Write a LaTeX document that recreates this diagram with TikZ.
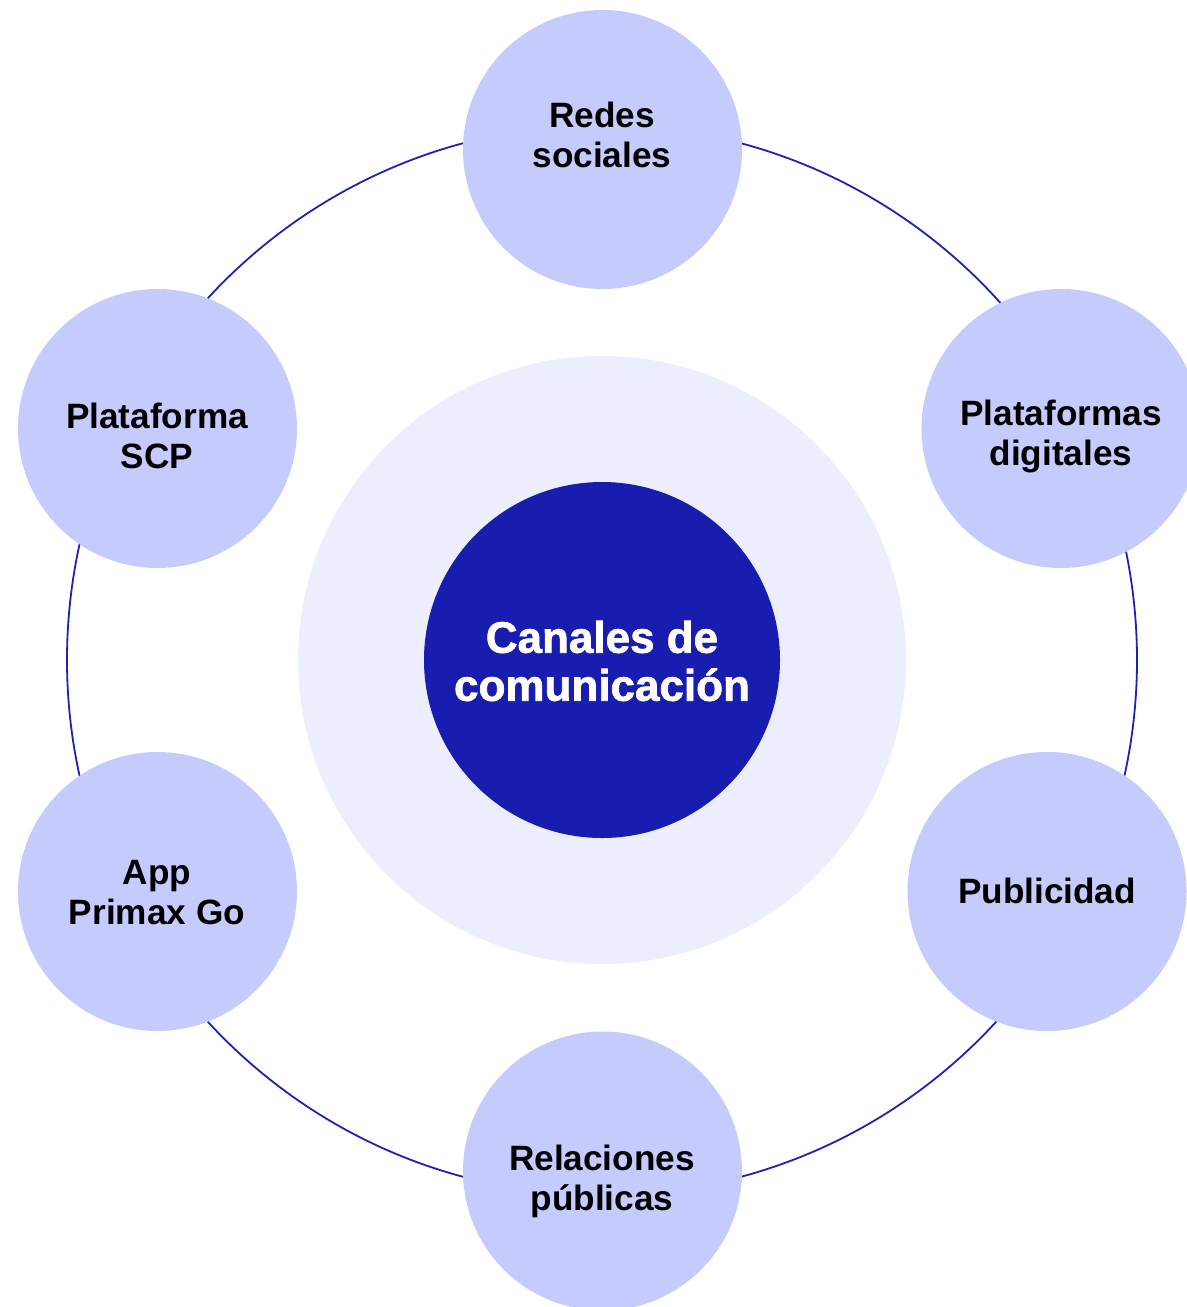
\documentclass[tikz,border=0pt]{standalone}
\usepackage{fontspec}
\setmainfont{Liberation Sans}
\newfontfamily\satfont{Liberation Sans Bold}
\newfontfamily\hubfont[FakeBold=1.6]{Liberation Sans Bold}
\definecolor{satfill}{RGB}{197,203,253}
\definecolor{halofill}{RGB}{237,238,253}
\definecolor{hubfill}{RGB}{24,29,175}
\definecolor{ringline}{RGB}{30,34,178}
\tikzset{
  sat/.style={circle, fill=satfill, minimum size=139.5pt, inner sep=0pt},
  sattext/.style={align=center, text=black, inner sep=0pt, font={\satfont\fontsize{17.6}{20}\selectfont}},
  halo/.style={circle, fill=halofill, minimum size=304pt, inner sep=0pt},
  hub/.style={circle, fill=hubfill, minimum size=178pt, inner sep=0pt},
  hubtext/.style={align=center, text=white, inner sep=0pt, font={\hubfont\fontsize{22}{24}\selectfont}},
  ring/.style={draw=ringline, line width=0.9pt}
}
\begin{document}
\begin{tikzpicture}[x=0.5pt, y=-0.5pt]
  \useasboundingbox (0,0) rectangle (1187,1307);
  \coordinate (mid) at (602,660);
  \draw[ring] (mid) circle (267.5pt);
  \node[halo] (halo) at (mid) {};
  \node[hub] (hub) at (mid) {};
  \node[hubtext] (hubt) at (602,661) {Canales de\\comunicación};
  \node[sat] (redes) at (602.5,149.5) {};
  \node[sat] (scp) at (157.5,428.5) {};
  \node[sat] (digital) at (1061,428.5) {};
  \node[sat] (app) at (157.5,891.5) {};
  \node[sat] (publi) at (1047,891.5) {};
  \node[sat] (rrpp) at (602.5,1171) {};
  \node[sattext] (redest) at (602,135) {Redes\\sociales};
  \node[sattext] (scpt) at (157,436) {Plataforma\\SCP};
  \node[sattext] (digitalt) at (1061,436) {Plataformas\\digitales};
  \node[sattext] (appt) at (157,893) {App\\Primax Go};
  \node[sattext] (publit) at (1047,891) {Publicidad};
  \node[sattext] (rrppt) at (602,1181) {Relaciones\\públicas};
\end{tikzpicture}
\end{document}
